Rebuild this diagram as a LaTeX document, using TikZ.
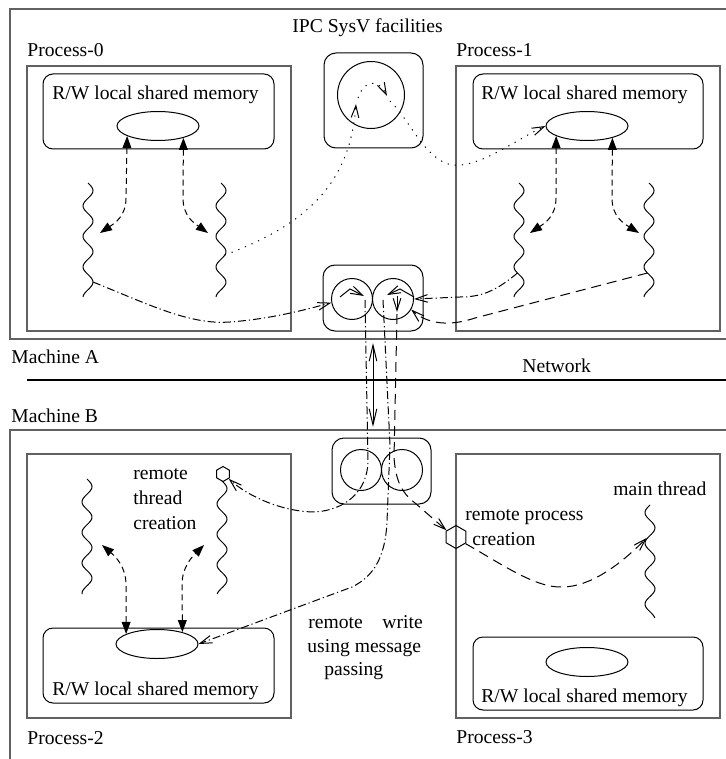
\documentclass[tikz,border=0pt]{standalone}
\usepackage{fontspec}
\setmainfont{Liberation Serif}
\usetikzlibrary{arrows.meta,shapes.geometric}

\tikzset{
  Tfill/.tip={Triangle[length=6pt,width=4.4pt]},
  Tstick/.tip={Straight Barb[length=6pt,width=3.8pt]},
  Tlong/.tip={Straight Barb[length=8pt,width=3.8pt]},
}

% a thread: vertical wavy line (centre x, top y, bottom y, signed amplitude)
\newcommand\wavethread[4]{%
  \draw[ln] plot[variable=\t, domain=#2:#3, samples=90, smooth]
    ({#1+#4*sin((\t-#2)*11.8)}, \t);}

\begin{document}
\begin{tikzpicture}[x=0.5pt,y=-0.5pt,
  font=\fontsize{9.8}{11.5}\selectfont,
  lbl/.style={inner sep=0pt,anchor=base west},
  frame/.style={draw=black!62,line width=0.75pt},
  ln/.style={line width=0.5pt},
  membox/.style={draw,ln,rounded corners=5pt},
  ipcbox/.style={draw,ln,rounded corners=6pt},
  shm/.style={draw,ellipse,ln,minimum width=41pt,minimum height=14.5pt,inner sep=0pt},
  queue/.style={draw,circle,ln,minimum size=20.5pt,inner sep=0pt},
  spawn/.style={draw,regular polygon,regular polygon sides=6,shape border rotate=30,inner sep=0pt,ln},
  shortdash/.style={ln,dash pattern=on 3pt off 2pt},
  longdash/.style={ln,dash pattern=on 5pt off 3pt},
  dotline/.style={ln,dash pattern=on 0.6pt off 3pt},
  dashdot/.style={ln,dash pattern=on 4pt off 1.5pt on 0.6pt off 1.5pt},
]
\useasboundingbox (0,0) rectangle (725,759);

% machines and network
\draw[frame] (740,9) -- (10,9) -- (10,339) -- (740,339);
\draw[frame] (740,430) -- (10,430) -- (10,770);
\draw[line width=0.6pt] (27,380) -- (740,380);

% processes
\draw[frame] (27,66) rectangle (291,331);
\draw[frame] (456,66) rectangle (720,331);
\draw[frame] (27,454) rectangle (291,718);
\draw[frame] (456,454) rectangle (720,718);

% shared memory areas
\draw[membox] (43,74) rectangle (274,149);
\draw[membox] (473,74) rectangle (703,149);
\draw[membox] (43,628) rectangle (274,703);
\draw[membox] (473,637) rectangle (703,710);
\node[shm] (e0) at (158,126) {};
\node[shm] (e1) at (587,126) {};
\node[shm] (e2) at (157,644) {};
\node[shm] (e3) at (587,662) {};

% IPC facilities
\draw[ipcbox] (324,53) rectangle (423,148);
\draw[ipcbox] (323,265) rectangle (423,331);
\draw[ipcbox] (332,438) rectangle (431,504);
\node[draw,circle,ln,minimum size=33.5pt,inner sep=0pt] (c0) at (371,95) {};
\node[queue] (ca1) at (352,299) {};
\node[queue] (ca2) at (393,299) {};
\node[queue] (cb1) at (361,470) {};
\node[queue] (cb2) at (402,470) {};

% creation points
\node[spawn,minimum size=7.5pt] (hx1) at (223,474) {};
\node[spawn,minimum size=11.5pt] (hx2) at (456,537) {};

% labels
\node[lbl] (ttl) at (292,33) {IPC SysV facilities};
\node[lbl] (n0) at (27,57) {Process-0};
\node[lbl] (n1) at (456,57) {Process-1};
\node[lbl] (n2) at (27,744) {Process-2};
\node[lbl] (n3) at (456,743) {Process-3};
\node[lbl] (ma) at (11,363) {Machine A};
\node[lbl] (mb) at (11,422) {Machine B};
\node[lbl] (nw) at (522,372) {Network};
\node[lbl] (s0) at (52,100) {R/W local shared memory};
\node[lbl] (s1) at (481,100) {R/W local shared memory};
\node[lbl] (s2) at (52,695) {R/W local shared memory};
\node[lbl] (s3) at (481,702) {R/W local shared memory};
\node[lbl] (rt1) at (133,479) {remote};
\node[lbl] (rt2) at (133,504) {thread};
\node[lbl] (rt3) at (133,529) {creation};
\node[lbl] (rw1) at (308,628) {remote~~~~write};
\node[lbl] (rw2) at (307,652) {using message};
\node[lbl] (rw3) at (324,675) {passing};
\node[lbl] (rp1) at (465,520) {remote process};
\node[lbl] (rp2) at (472,545) {creation};
\node[lbl] (mtl) at (613,495) {main thread};

% threads
\wavethread{88}{183}{297}{5}
\wavethread{221}{183}{297}{5}
\wavethread{519}{183}{297}{5}
\wavethread{649}{183}{297}{5}
\wavethread{87}{479}{594}{5}
\wavethread{222}{481}{594}{5}
\wavethread{650}{505}{618}{-5}

% points on the threads where connectors start or end
\coordinate (t0a) at ({88+5*sin((282-183)*11.8)},282);
\coordinate (t0b) at ({221+5*sin((255-183)*11.8)},255);
\coordinate (t1a) at ({519+5*sin((273-183)*11.8)},273);
\coordinate (t1b) at ({649+5*sin((273-183)*11.8)},273);
\coordinate (tm)  at ({650-5*sin((538-505)*11.8)-1},538);

% free ends of the local memory accesses
\coordinate (a0l) at (100,233);
\coordinate (a0r) at (208,233);
\coordinate (a1l) at (530,233);
\coordinate (a1r) at (639,233);
\coordinate (a2l) at (102,545);
\coordinate (a2r) at (204,545);

% local shared memory accesses
\draw[shortdash,Tfill-Tfill] (e0.198) -- (126,198) .. controls (126,216) and (115,223) .. (a0l);
\draw[shortdash,Tfill-Tfill] (e0.335) -- (183,198) .. controls (183,216) and (194,223) .. (a0r);
\draw[shortdash,Tfill-Tfill] (e1.198) -- (556,198) .. controls (556,216) and (545,223) .. (a1l);
\draw[shortdash,Tfill-Tfill] (e1.335) -- (612,198) .. controls (612,216) and (623,223) .. (a1r);
\draw[shortdash,Tfill-Tfill] (e2.162) -- (126,585) .. controls (126,567) and (116,557) .. (a2l);
\draw[shortdash,Tfill-Tfill] (e2.25) -- (182,585) .. controls (182,567) and (192,557) .. (a2r);

% through the top IPC facility
\draw[dotline,-Tstick] (t0b) .. controls (305,225) and (350,185) .. (356,104);
\draw[dotline,-Tstick] (358,98) .. controls (364,80) and (378,78) .. (387,96);
\draw[dotline,-Tstick] (390,101) .. controls (410,120) and (425,160) .. (452,165)
  .. controls (480,168) and (515,140) .. (e1.west);

% into the lower IPC facility of machine A
\draw[dashdot,-Tstick] (t0a) .. controls (150,305) and (190,325) .. (230,322)
  .. controls (270,319) and (305,310) .. (ca1.190);
\draw[ln,-Tstick] (340,297) -- (350,289) -- (364,296);
\draw[dashdot,-Tstick] (t1a) .. controls (495,292) and (480,297) .. (460,297) -- (ca2.east);
\draw[ln,-Tstick] (414,297) -- (400,289) -- (387,295);
\draw[longdash,-Tstick] (t1b) -- (475,318) .. controls (445,328) and (425,322) .. (ca2.-30);
\draw[ln,-Tstick] (397,296) -- (397,312);

% network exchange
\draw[ln,Tlong-Tlong] (373,343) -- (373,427);

% to machine B
\draw[dashdot,-Tstick] (365,300) -- (368,462) .. controls (367,492) and (345,510) .. (315,512)
  .. controls (285,512) and (250,498) .. (hx1.-40);
\draw[dashdot,-Tstick] (383,300) -- (390,445) -- (387,522) .. controls (385,560) and (372,577) .. (352,587)
  -- (e2.east);
\draw[longdash,-Tstick] (397,314) -- (394,458) .. controls (396,482) and (402,493) .. (415,503)
  -- (hx2.145);
\draw[longdash,-Tstick] (hx2.-35) .. controls (500,563) and (535,588) .. (562,587)
  .. controls (590,587) and (620,565) .. (tm);
\end{tikzpicture}
\end{document}
